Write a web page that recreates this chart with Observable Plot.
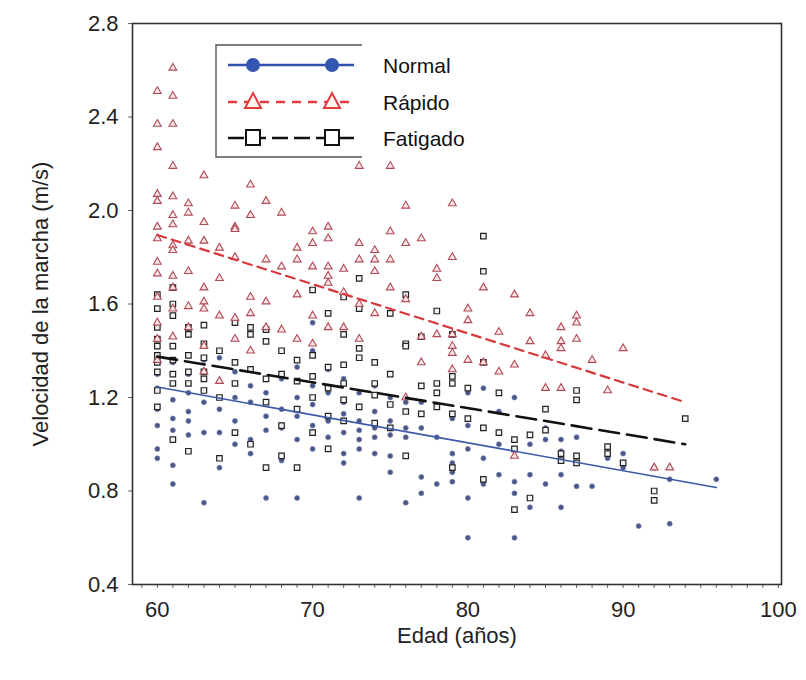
<!DOCTYPE html>
<html><head><meta charset="utf-8">
<script src="https://cdn.jsdelivr.net/npm/d3@7"></script>
<script src="https://cdn.jsdelivr.net/npm/@observablehq/plot@0.6"></script>
<style>
body{margin:0;background:#fff;}
#chart{width:806px;height:680px;}
</style></head><body><div id="chart"></div>
<script>
const seriesNames = ["Normal", "Rápido", "Fatigado"];
const xTicks = [60, 70, 80, 90, 100];
const yTicks = [0.4, 0.8, 1.2, 1.6, 2.0, 2.4, 2.8];
const xLabel = "Edad (años)";
const yLabel = "Velocidad de la marcha (m/s)";

// [age, [speeds...]]
const normalCols = [
[60,[1.30,1.24,1.15,1.08,0.98,0.94]],[61,[1.35,1.19,1.11,1.06,0.91,0.83]],
[62,[1.30,1.22,1.14,1.10,1.04]],[63,[1.36,1.18,1.05,0.75]],[64,[1.37,1.15,1.05,0.90]],
[65,[1.45,1.31,1.20,1.10,1.00]],[66,[1.25,1.18,1.02,0.96]],[67,[1.22,1.12,1.06,0.77]],
[68,[1.28,1.15,1.07,0.93]],[69,[1.33,1.20,1.12,1.02,0.77]],[70,[1.52,1.40,1.25,1.17,1.08,0.98]],
[71,[1.32,1.22,1.10,1.03]],[72,[1.28,1.18,1.13,1.05,0.96,0.92]],[73,[1.22,1.10,1.06,1.02,0.98,0.77]],
[74,[1.25,1.14,1.07,1.03,0.96]],[75,[1.20,1.10,1.04,0.95,0.88]],[76,[1.18,1.07,1.03,0.75]],
[77,[1.18,1.07,0.86,0.79]],[78,[1.22,1.16,1.03,0.83]],[79,[1.11,0.96,0.92,0.88,0.84]],
[80,[1.22,1.08,0.98,0.77,0.60]],[81,[1.24,1.07,0.94,0.83]],[82,[1.14,1.05,1.00,0.87]],
[83,[1.20,0.84,0.79,0.60]],[84,[1.00,0.87,0.77,0.73]],[85,[1.07,1.02,0.83]],
[86,[1.02,0.97,0.87,0.73]],[87,[1.03,0.82]],[88,[0.82]],[89,[0.99,0.94]],[90,[0.96,0.90]],
[91,[0.65]],[92,[0.90]],[93,[0.85,0.66]],[96,[0.85]]
];
const rapidoCols = [
[60,[2.51,2.37,2.27,2.07,2.04,1.93,1.88,1.78,1.73,1.63,1.52,1.45,1.36]],
[61,[2.61,2.49,2.37,2.19,2.06,1.98,1.94,1.85,1.83,1.72,1.67,1.58,1.46]],
[62,[2.03,1.99,1.87,1.74,1.59,1.50]],[63,[2.15,1.95,1.87,1.67,1.61,1.58,1.42,1.31]],
[64,[1.84,1.71,1.55,1.27]],[65,[2.02,1.93,1.92,1.80,1.54,1.45]],[66,[2.11,1.98,1.63,1.56,1.40]],
[67,[2.04,1.79,1.61,1.50]],[68,[1.99,1.76,1.49]],[69,[1.84,1.79,1.64,1.45]],
[70,[1.91,1.86,1.76,1.55,1.43]],[71,[1.93,1.88,1.76,1.72,1.69,1.50]],[72,[1.75,1.65,1.50]],
[73,[2.19,1.86,1.79,1.60,1.45]],[74,[1.83,1.79,1.74,1.56]],[75,[2.19,1.91,1.79,1.67]],
[76,[2.02,1.86,1.62,1.20]],[77,[1.88,1.46,1.35]],[78,[1.75,1.71,1.47]],
[79,[2.03,1.80,1.47,1.42,1.39,1.32]],[80,[1.58,1.53,1.36]],[81,[1.67,1.35]],[82,[1.48,1.31]],
[83,[1.64,1.34,0.95]],[84,[1.56,1.44]],[85,[1.38,1.24]],[86,[1.50,1.44,1.41,1.24]],
[87,[1.55,1.52,1.45]],[88,[1.36]],[89,[1.23]],[90,[1.41]],[92,[0.90]],[93,[0.90]]
];
const fatigadoCols = [
[60,[1.64,1.58,1.50,1.45,1.42,1.38,1.35,1.31,1.23,1.16]],[61,[1.67,1.60,1.55,1.42,1.36,1.30,1.26,1.02]],
[62,[1.50,1.47,1.38,1.31,1.26,0.97]],[63,[1.51,1.43,1.37,1.31,1.28,1.23]],[64,[1.40,1.20,0.94]],
[65,[1.52,1.35,1.26,1.05]],[66,[1.50,1.47,1.32,1.00]],[67,[1.49,1.44,1.28,1.18,0.90]],
[68,[1.40,1.30,1.08,0.95]],[69,[1.36,1.27,1.15,0.90]],[70,[1.66,1.38,1.29,1.20,1.05]],
[71,[1.56,1.33,1.24,1.12,0.98]],[72,[1.63,1.47,1.34,1.26,1.19,1.10]],[73,[1.71,1.58,1.41,1.37,1.16]],
[74,[1.35,1.26,1.21,1.09]],[75,[1.56,1.30,1.17,1.07]],[76,[1.64,1.43,1.42,1.14,0.95]],
[77,[1.46,1.25,1.13]],[78,[1.57,1.26,1.22,1.16]],[79,[1.47,1.29,1.26,1.13,0.90]],
[80,[1.24,1.11]],[81,[1.89,1.74,1.35,1.07,0.85]],[82,[1.22,1.05]],[83,[1.02,0.98,0.72]],
[84,[1.04,0.77]],[85,[1.15,1.06]],[86,[0.96,0.93]],[87,[1.23,1.19,0.95,0.92]],
[89,[0.99,0.96]],[90,[0.92]],[92,[0.80,0.76]],[94,[1.11]]
];
// trend lines (endpoints)
const normalTrend = [[60,1.245],[96,0.815]];
const rapidoTrend = [[60,1.895],[94,1.18]];
const fatigadoTrend = [[60,1.375],[94,1.0]];

const flat = cols => cols.flatMap(([a, vs]) => vs.map(v => ({age: a, v})));
const normalPts = flat(normalCols), rapidoPts = flat(rapidoCols), fatigadoPts = flat(fatigadoCols);
const tr = t => t.map(([a, v]) => ({age: a, v}));

const FONT = "'Liberation Sans', Arial, sans-serif";
const chart = Plot.plot({
  width: 806, height: 680,
  marginLeft: 132, marginRight: 25, marginTop: 23, marginBottom: 96,
  x: {domain: [58.4, 100.2]},
  y: {domain: [0.4, 2.8]},
  style: {fontFamily: FONT, fontSize: "22px", color: "#222", background: "#fff"},
  marks: [
    Plot.axisX({ticks: d3.range(59, 101), tickSize: 4, tickFormat: () => "", label: null, stroke: "#666"}),
    Plot.axisX({ticks: xTicks, tickSize: 0, tickPadding: 17, tickFormat: d => String(d),
      label: xLabel, labelAnchor: "center", labelArrow: false, labelOffset: 58}),
    Plot.axisY({ticks: yTicks, tickSize: 4, tickPadding: 10, tickFormat: d => d.toFixed(1),
      label: yLabel, labelAnchor: "center", labelArrow: false, labelOffset: 100, stroke: "#666"}),
    Plot.dot(normalPts, {x: "age", y: "v", r: 2.5, fill: "#4a5688", stroke: "#7380aa", strokeWidth: 0.7}),
    Plot.dot(fatigadoPts, {x: "age", y: "v", symbol: "square", r: 3.1, fill: "#f4f4f4", stroke: "#222", strokeWidth: 1.2}),
    Plot.dot(rapidoPts, {x: "age", y: "v", symbol: "triangle", r: 2.9, fill: "#fbe6e8", stroke: "#b04a56", strokeWidth: 1.1}),
    Plot.line(tr(normalTrend), {x: "age", y: "v", stroke: "#3c58a8", strokeWidth: 1.6}),
    Plot.line(tr(fatigadoTrend), {x: "age", y: "v", stroke: "#111", strokeWidth: 2.6, strokeDasharray: "20,8"}),
    Plot.line(tr(rapidoTrend), {x: "age", y: "v", stroke: "#d8383c", strokeWidth: 2.2, strokeDasharray: "9,6"}),
    Plot.frame({stroke: "#333", strokeWidth: 1.6})
  ]
});
document.getElementById("chart").appendChild(chart);

// legend (inside plot, top-left)
const svg = d3.select(chart);
const lg = svg.append("g").attr("font-family", FONT).attr("text-anchor", "start");
lg.append("rect").attr("x", 216).attr("y", 45).attr("width", 270).attr("height", 112).attr("fill", "#fff");
lg.append("path").attr("d", "M362,45H216V157H362").attr("fill", "none").attr("stroke", "#555").attr("stroke-width", 1.4);
const rowsY = [65, 102, 138];
const styles = [
  {stroke: "#3050b0", dash: null, w: 2.5},
  {stroke: "#e03c3c", dash: "9,7", w: 2.5},
  {stroke: "#111", dash: "16,6", w: 2.5}
];
seriesNames.forEach((name, i) => {
  const y = rowsY[i], s = styles[i];
  const ln = lg.append("line").attr("x1", 228).attr("x2", 354).attr("y1", y).attr("y2", y)
    .attr("stroke", s.stroke).attr("stroke-width", s.w);
  if (s.dash) ln.attr("stroke-dasharray", s.dash);
  [253, 332].forEach(cx => {
    if (i === 0) lg.append("circle").attr("cx", cx).attr("cy", y).attr("r", 7).attr("fill", "#3556b0");
    else if (i === 1) lg.append("path").attr("d", `M${cx},${y-9}L${cx+8},${y+6}L${cx-8},${y+6}Z`)
      .attr("fill", "#fff4f0").attr("stroke", "#e03c3c").attr("stroke-width", 2);
    else lg.append("rect").attr("x", cx - 7).attr("y", y - 8).attr("width", 14).attr("height", 15)
      .attr("fill", "#fff").attr("stroke", "#111").attr("stroke-width", 2);
  });
  lg.append("text").attr("x", 383).attr("y", y).attr("dy", "0.36em").attr("font-size", 21)
    .attr("text-anchor", "start").attr("fill", "#111").text(name);
});
</script></body></html>
